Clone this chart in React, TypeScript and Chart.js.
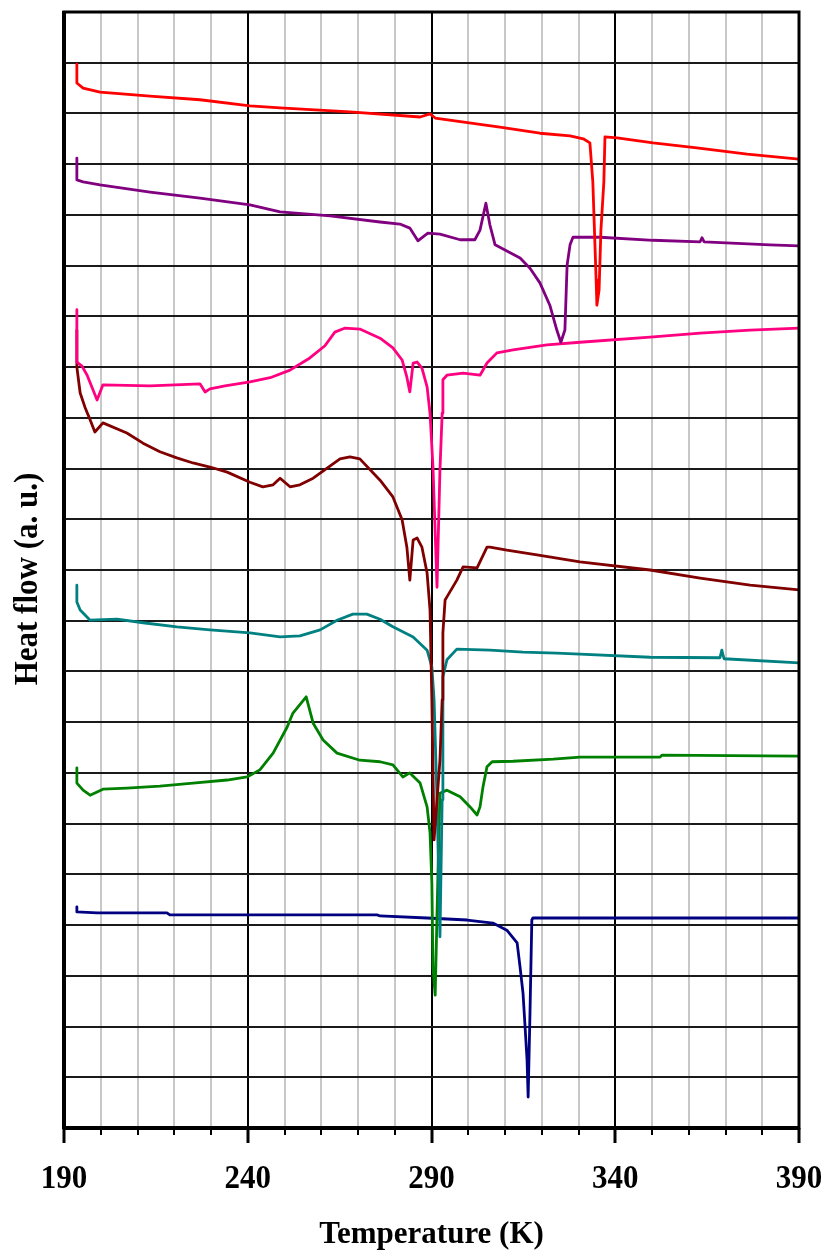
import React, { useEffect, useRef } from "react";
import { Chart, registerables } from "chart.js";

Chart.register(...registerables);

// ---- Data (Temperature in K, heat flow in arbitrary units) ----
const redTemp = [193.5, 193.5, 195.2, 199.8, 213.4, 227.0, 240.6, 248.8, 267.8, 286.9, 289.6, 291.0, 308.6, 319.5, 327.7, 331.3, 333.1, 333.9, 334.8, 335.0, 335.6, 336.1, 336.9, 337.2, 340.5, 350.3, 362.2, 375.9, 390.0];
const redFlow = [20.97, 20.60, 20.50, 20.42, 20.34, 20.27, 20.15, 20.11, 20.03, 19.93, 19.99, 19.91, 19.73, 19.61, 19.56, 19.50, 19.42, 18.65, 16.72, 16.22, 16.52, 17.70, 18.65, 19.54, 19.52, 19.42, 19.32, 19.20, 19.10];

const purpleTemp = [193.5, 193.5, 195.2, 199.8, 213.4, 227.0, 240.6, 248.8, 262.4, 276.0, 281.4, 284.1, 286.3, 289.0, 292.3, 297.8, 301.8, 303.2, 304.8, 305.9, 307.3, 310.0, 314.1, 316.8, 319.5, 322.2, 324.1, 325.2, 326.3, 326.9, 327.7, 328.5, 335.9, 350.3, 363.1, 363.6, 364.2, 382.1, 390.0];
const purpleFlow = [19.12, 18.69, 18.65, 18.59, 18.45, 18.33, 18.20, 18.06, 17.98, 17.86, 17.82, 17.74, 17.49, 17.64, 17.62, 17.51, 17.51, 17.70, 18.23, 17.80, 17.41, 17.31, 17.15, 16.95, 16.66, 16.22, 15.73, 15.49, 15.73, 17.01, 17.41, 17.56, 17.56, 17.50, 17.47, 17.55, 17.47, 17.41, 17.39];

const pinkTemp = [193.5, 193.5, 194.9, 196.3, 199.0, 200.6, 213.4, 227.0, 228.4, 229.7, 233.8, 240.6, 246.1, 251.5, 256.9, 261.0, 263.7, 266.5, 270.5, 276.0, 279.5, 282.0, 283.3, 284.1, 285.0, 286.1, 287.4, 288.8, 289.6, 290.4, 291.5, 292.3, 292.9, 293.1, 294.2, 298.6, 303.2, 305.1, 307.8, 312.2, 321.4, 330.4, 349.5, 363.1, 376.7, 390.0];
const pinkFlow = [16.13, 15.10, 15.02, 14.84, 14.35, 14.65, 14.63, 14.67, 14.51, 14.57, 14.63, 14.71, 14.79, 14.94, 15.18, 15.42, 15.69, 15.77, 15.75, 15.57, 15.38, 15.14, 14.80, 14.51, 15.08, 15.10, 14.98, 14.61, 14.09, 13.03, 10.66, 12.97, 14.09, 14.75, 14.84, 14.88, 14.84, 15.08, 15.28, 15.34, 15.44, 15.49, 15.59, 15.67, 15.73, 15.77];

const maroonTemp = [193.5, 193.5, 194.4, 195.7, 197.1, 198.4, 200.6, 207.1, 211.5, 216.1, 220.7, 225.1, 229.7, 234.4, 240.6, 244.1, 246.9, 248.8, 251.5, 254.2, 257.8, 261.6, 265.1, 267.8, 270.5, 276.0, 279.5, 282.0, 283.3, 284.1, 285.0, 286.1, 287.4, 288.8, 289.6, 290.1, 290.7, 292.3, 292.9, 293.1, 293.7, 294.2, 296.9, 298.6, 302.4, 305.1, 305.9, 310.5, 318.7, 330.4, 349.5, 363.1, 376.7, 390.0];
const maroonFlow = [15.73, 15.00, 14.49, 14.21, 13.96, 13.72, 13.90, 13.70, 13.50, 13.33, 13.21, 13.11, 13.03, 12.93, 12.73, 12.64, 12.68, 12.81, 12.64, 12.68, 12.81, 13.01, 13.19, 13.23, 13.19, 12.77, 12.44, 11.99, 11.45, 10.80, 11.59, 11.63, 11.45, 10.94, 10.21, 8.44, 5.68, 7.25, 8.44, 9.76, 10.41, 10.47, 10.80, 11.06, 11.04, 11.45, 11.45, 11.39, 11.30, 11.16, 11.00, 10.84, 10.70, 10.61];

const tealTemp = [193.5, 193.5, 194.4, 197.1, 204.4, 211.5, 220.7, 229.7, 240.6, 248.8, 254.2, 259.7, 264.3, 268.6, 272.4, 276.0, 279.5, 285.0, 288.8, 290.1, 290.7, 291.5, 292.3, 292.9, 293.1, 294.2, 296.9, 305.9, 314.9, 324.1, 330.4, 349.5, 368.5, 369.0, 369.6, 390.0];
const tealFlow = [10.70, 10.37, 10.21, 10.01, 10.03, 9.96, 9.88, 9.82, 9.76, 9.68, 9.70, 9.82, 10.01, 10.13, 10.13, 10.03, 9.88, 9.68, 9.42, 9.09, 8.44, 6.47, 3.77, 6.47, 8.89, 9.23, 9.44, 9.42, 9.38, 9.36, 9.34, 9.28, 9.27, 9.42, 9.25, 9.17];

const greenTemp = [193.5, 193.5, 195.2, 197.1, 200.6, 207.1, 216.1, 225.1, 234.4, 239.8, 243.3, 246.9, 250.7, 252.3, 255.9, 257.8, 260.5, 264.3, 270.5, 276.0, 279.5, 282.2, 284.1, 286.9, 288.8, 289.6, 290.1, 290.4, 291.0, 291.8, 292.3, 294.2, 297.8, 300.5, 302.4, 303.2, 304.0, 305.1, 306.5, 312.2, 323.1, 330.4, 352.2, 352.7, 390.0];
const greenFlow = [7.10, 6.80, 6.66, 6.56, 6.68, 6.70, 6.74, 6.80, 6.86, 6.92, 7.06, 7.39, 7.90, 8.18, 8.50, 7.98, 7.65, 7.39, 7.25, 7.22, 7.16, 6.92, 7.00, 6.80, 6.33, 5.82, 4.83, 3.17, 2.62, 5.15, 6.60, 6.66, 6.53, 6.33, 6.17, 6.33, 6.72, 7.12, 7.22, 7.23, 7.27, 7.31, 7.31, 7.35, 7.33];

const navyTemp = [193.5, 193.5, 199.0, 218.0, 218.8, 275.2, 276.0, 288.8, 299.7, 306.7, 310.5, 313.3, 314.1, 314.9, 315.4, 316.0, 316.3, 316.8, 317.3, 317.6, 390.0];
const navyFlow = [4.36, 4.26, 4.24, 4.24, 4.20, 4.20, 4.18, 4.14, 4.10, 4.04, 3.90, 3.65, 3.17, 2.66, 2.07, 1.34, 0.61, 2.27, 4.10, 4.14, 4.14];

const xMajorTicks = [190, 240, 290, 340, 390];
const xMin = 190;
const xMax = 390;
const yMin = 0;
const yMax = 22;
const xAxisTitle = "Temperature (K)";
const yAxisTitle = "Heat flow (a. u.)";

const seriesList = [
  { name: "red", color: "#ff0000", temp: redTemp, flow: redFlow },
  { name: "purple", color: "#800080", temp: purpleTemp, flow: purpleFlow },
  { name: "pink", color: "#ff0080", temp: pinkTemp, flow: pinkFlow },
  { name: "maroon", color: "#800000", temp: maroonTemp, flow: maroonFlow },
  { name: "teal", color: "#008080", temp: tealTemp, flow: tealFlow },
  { name: "green", color: "#008000", temp: greenTemp, flow: greenFlow },
  { name: "navy", color: "#000080", temp: navyTemp, flow: navyFlow },
];

const FONT = '"Liberation Serif", "Times New Roman", serif';

const framePlugin = {
  id: "frame",
  afterDraw(chart: any) {
    const { ctx, chartArea: a, scales } = chart;
    const xs = scales.x;
    ctx.save();
    // plot frame
    ctx.strokeStyle = "#000";
    ctx.lineWidth = 3;
    ctx.strokeRect(a.left, a.top, a.right - a.left, a.bottom - a.top);
    ctx.lineWidth = 4;
    ctx.beginPath();
    ctx.moveTo(a.left - 1, a.bottom);
    ctx.lineTo(a.right + 1, a.bottom);
    ctx.moveTo(a.left, a.top - 1);
    ctx.lineTo(a.left, a.bottom + 1);
    ctx.stroke();
    // tick marks below x axis
    for (const t of xs.ticks) {
      const px = Math.round(xs.getPixelForValue(t.value));
      const major = xMajorTicks.includes(t.value);
      ctx.lineWidth = major ? 3 : 2;
      ctx.beginPath();
      ctx.moveTo(px, a.bottom);
      ctx.lineTo(px, a.bottom + (major ? 15 : 7));
      ctx.stroke();
    }
    // tick labels (slightly tall glyphs as in the reference)
    ctx.fillStyle = "#000";
    ctx.font = `bold 31px ${FONT}`;
    ctx.textAlign = "center";
    ctx.textBaseline = "alphabetic";
    for (const v of xMajorTicks) {
      const px = xs.getPixelForValue(v);
      ctx.save();
      ctx.translate(px, 1188);
      ctx.scale(1, 1.1);
      ctx.fillText(String(v), 0, 0);
      ctx.restore();
    }
    // x title
    ctx.save();
    ctx.translate((a.left + a.right) / 2, 1243);
    ctx.scale(1, 1.05);
    ctx.fillText(xAxisTitle, 0, 0);
    ctx.restore();
    // y title
    ctx.translate(37, 579);
    ctx.rotate(-Math.PI / 2);
    ctx.scale(1, 1.08);
    ctx.fillText(yAxisTitle, 0, 0);
    ctx.restore();
  },
};

export default function App() {
  const canvasRef = useRef<HTMLCanvasElement | null>(null);

  useEffect(() => {
    const canvas = canvasRef.current;
    if (!canvas) return;
    const datasets = seriesList.map((s) => ({
      label: s.name,
      data: s.temp.map((x, i) => ({ x, y: s.flow[i] })),
      borderColor: s.color,
      backgroundColor: s.color,
      borderWidth: 2.8,
      pointRadius: 0,
      tension: 0,
      fill: false,
      borderJoinStyle: "round" as const,
      borderCapStyle: "round" as const,
    }));
    const chart = new Chart(canvas, {
      type: "line",
      data: { datasets },
      options: {
        responsive: false,
        animation: false,
        devicePixelRatio: 1,
        events: [],
        parsing: false,
        layout: { padding: { left: 64, top: 12, right: 29, bottom: 123 } },
        plugins: { legend: { display: false }, tooltip: { enabled: false }, title: { display: false } },
        scales: {
          x: {
            type: "linear",
            min: xMin,
            max: xMax,
            ticks: { display: false, stepSize: 10 },
            border: { display: false },
            grid: {
              drawTicks: false,
              lineWidth: 2,
              color: (c: any) => (xMajorTicks.includes(c.tick?.value) ? "#000000" : "#c8c8c8"),
            },
          },
          y: {
            type: "linear",
            min: yMin,
            max: yMax,
            ticks: { display: false, stepSize: 1 },
            border: { display: false },
            grid: { drawTicks: false, lineWidth: 2, color: "#1a1a1a" },
          },
        },
      },
      plugins: [framePlugin],
    });
    return () => chart.destroy();
  }, []);

  return (
    <div style={{ position: "absolute", left: 0, top: 0, width: 828, height: 1251, background: "#fff" }}>
      <canvas ref={canvasRef} width={828} height={1251} style={{ display: "block", width: 828, height: 1251 }} />
    </div>
  );
}
